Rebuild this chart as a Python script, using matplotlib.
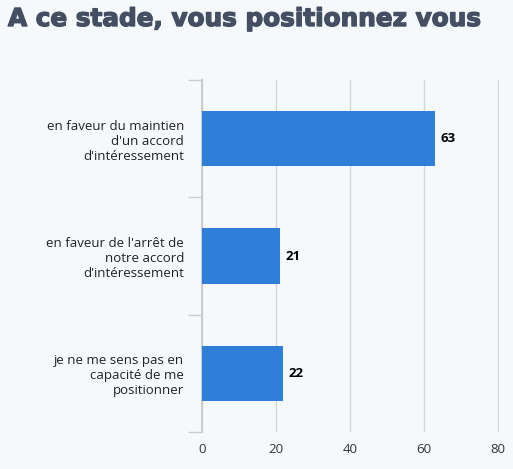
import numpy as np
import matplotlib.pyplot as plt
import matplotlib.patheffects as pe

categories = ["en faveur du maintien\nd'un accord\nd'intéressement",
              "en faveur de l'arrêt de\nnotre accord\nd'intéressement",
              "je ne me sens pas en\ncapacité de me\npositionner"]
values = [63, 21, 22]
xticks = [0, 20, 40, 60, 80]

bg = "#f5f9fc"
bar_color = "#2f7ed8"

plt.rcParams['font.family'] = ['Open Sans', 'DejaVu Sans']

fig = plt.figure(figsize=(5.13, 4.69), dpi=100, facecolor=bg)
ax = fig.add_axes([202 / 513, 1 - 432 / 469, (499 - 202) / 513, (432 - 80) / 469])
ax.set_facecolor(bg)

y = np.arange(len(categories))
ax.barh(y, values, height=0.47, color=bar_color, zorder=3)
for yi, v in zip(y, values):
    ax.text(v + 1.5, yi, str(v), va="center", ha="left", fontsize=9.5,
            fontweight="bold", color="black")

ax.set_ylim(2.5, -0.5)
ax.set_xlim(0, 80.3)
ax.set_yticks(y)
ax.set_yticklabels(categories, fontsize=9.5, color="#222222", linespacing=1.2)
ax.set_yticks([-0.5, 0.5, 1.5, 2.5], minor=True)
ax.tick_params(axis="y", which="major", length=0, pad=13)
ax.tick_params(axis="y", which="minor", length=10, color="#cccccc", width=1)
ax.set_xticks(xticks)
ax.tick_params(axis="x", length=0, labelsize=9.5, labelcolor="#333333", pad=8)
ax.grid(axis="x", color="#d6d6d6", linewidth=1, zorder=0)
for s in ["top", "right", "bottom"]:
    ax.spines[s].set_visible(False)
ax.spines["left"].set_color("#cccccc")
ax.spines["left"].set_linewidth(1.5)

fig.text(8 / 513, 1 - 19 / 469, "A ce stade, vous positionnez vous", fontsize=17.8,
         fontweight="bold", family="DejaVu Sans", color="#454f63",
         va="center", ha="left",
         path_effects=[pe.withStroke(linewidth=1.0, foreground="#454f63")])

fig.savefig("out.png", facecolor=bg)
